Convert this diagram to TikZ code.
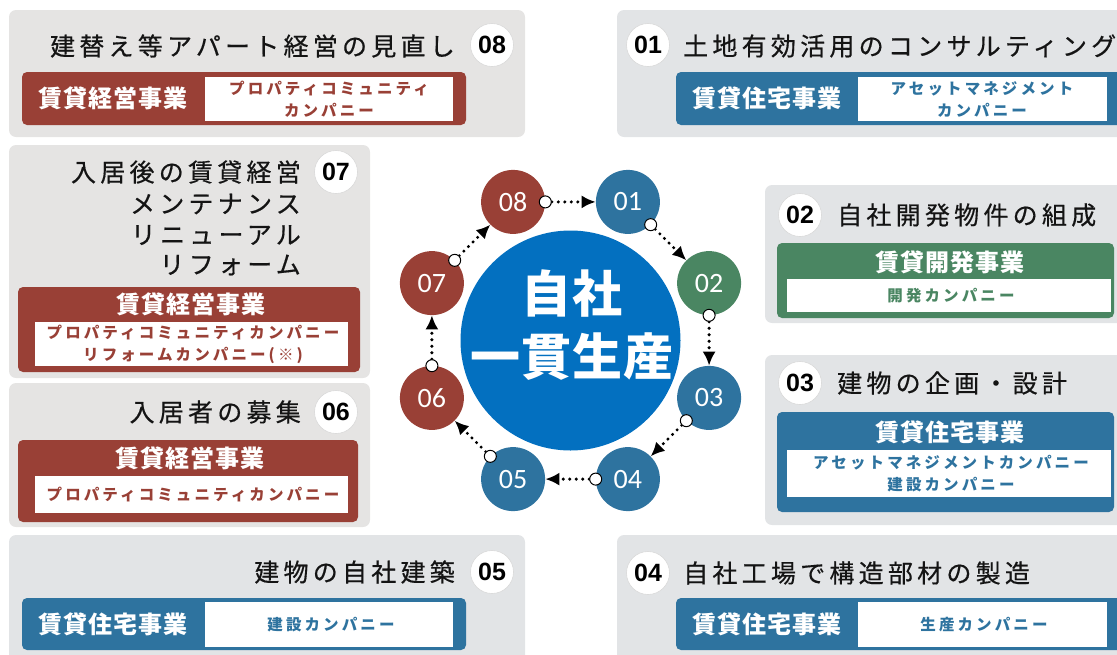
\documentclass[tikz,border=0pt]{standalone}
\usepackage{fontspec}
\usetikzlibrary{arrows.meta}
\newfontfamily\jpT[LetterSpace=17,FakeBold=0.5]{Noto Sans CJK JP}
\newfontfamily\jpL[LetterSpace=5]{Noto Sans CJK JP}
\newfontfamily\jpS[LetterSpace=20]{Noto Sans CJK JP}
\newfontfamily\jpC[LetterSpace=2]{Noto Sans CJK JP}
\newfontfamily\numf{Liberation Sans}
\newfontfamily\ringf{Carlito}
\definecolor{brn}{RGB}{153,64,54}
\definecolor{blu}{RGB}{46,115,159}
\definecolor{grn}{RGB}{74,134,98}
\definecolor{cblu}{RGB}{3,112,192}
\definecolor{gw}{RGB}{229,228,227}
\definecolor{gc}{RGB}{226,228,230}
\definecolor{ink}{RGB}{20,20,20}
\tikzset{
 panelW/.style={fill=gw, rounded corners=7pt},
 panelC/.style={fill=gc, rounded corners=7pt},
 bar/.style={rounded corners=5pt},
 title/.style={inner sep=0pt, text=ink, font=\jpT\fontsize{25}{28}\selectfont},
 badge/.style={circle, fill=white, draw=black!15, line width=0.6pt, minimum size=43pt, inner sep=0pt, font=\numf\bfseries\fontsize{25}{25}\selectfont, text=black},
 blabel/.style={inner sep=0pt, text=white, font=\jpL\bfseries\fontsize{24}{28}\selectfont},
 wtext/.style={inner sep=0pt, align=center, font=\jpS\bfseries\fontsize{15.5}{22}\selectfont},
 ring/.style={circle, minimum size=64pt, inner sep=0pt, text=white, font=\ringf\fontsize{28}{28}\selectfont},
 conn/.style={line width=3.4pt, dash pattern=on 0pt off 6.5pt, line cap=round, -{Latex[length=14pt,width=13pt]}},
 hc/.style={circle, solid, fill=white, draw=black, line width=1pt, minimum size=12pt, inner sep=0pt},
}
\begin{document}
\begin{tikzpicture}[x=1pt,y=-1pt]
\useasboundingbox (0,0) rectangle (1117,654);
\clip (0,0) rectangle (1117,654);
% panels
\fill[panelW] (9,10) rectangle (525,137);
\fill[panelC] (617,10) rectangle (1135,137);
\fill[panelW] (9,145) rectangle (370,378);
\fill[panelW] (9,383) rectangle (370,527);
\fill[panelC] (765,185) rectangle (1135,323);
\fill[panelC] (765,355) rectangle (1135,525);
\fill[panelC] (9,535) rectangle (525,670);
\fill[panelC] (617,535) rectangle (1135,670);
% panel 08
\fill[brn,bar] (22,72) rectangle (466,125);
\fill[white] (205,77) rectangle (453,121);
\node[title,anchor=east] (t08) at (455,46) {建替え等アパート経営の見直し};
\node[badge] (b08) at (492,45) {08};
\node[blabel] (l08) at (113,98) {賃貸経営事業};
\node[wtext,text=brn] (w08) at (329,99) {プロパティコミュニティ\\カンパニー};
% panel 01
\fill[blu,bar] (676,72) rectangle (1130,125);
\fill[white] (858,77) rectangle (1107,121);
\node[title,anchor=west] (t01) at (683,46) {土地有効活用のコンサルティング};
\node[badge] (b01) at (648,45) {01};
\node[blabel] (l01) at (767,98) {賃貸住宅事業};
\node[wtext,text=blu] (w01) at (982,99) {アセットマネジメント\\カンパニー};
% panel 07
\fill[brn,bar] (18,287) rectangle (360,372);
\fill[white] (35,322) rectangle (348,366);
\node[title,anchor=east] (t07a) at (301,172) {入居後の賃貸経営};
\node[title,anchor=east] (t07b) at (301,204) {メンテナンス};
\node[title,anchor=east] (t07c) at (301,235) {リニューアル};
\node[title,anchor=east] (t07d) at (301,265) {リフォーム};
\node[badge] (b07) at (336,172) {07};
\node[blabel] (l07) at (191,304) {賃貸経営事業};
\node[wtext,text=brn] (w07) at (193,344) {プロパティコミュニティカンパニー\\リフォームカンパニー(※)};
% panel 06
\fill[brn,bar] (18,440) rectangle (358,522);
\fill[white] (35,476) rectangle (348,513);
\node[title,anchor=east] (t06) at (301,412) {入居者の募集};
\node[badge] (b06) at (336,412) {06};
\node[blabel] (l06) at (190,458) {賃貸経営事業};
\node[wtext,text=brn] (w06) at (193,494.5) {プロパティコミュニティカンパニー};
% panel 02
\fill[grn,bar] (777,243) rectangle (1114,318);
\fill[white] (787,279) rectangle (1111,312);
\node[title,anchor=west] (t02) at (837,215) {自社開発物件の組成};
\node[badge] (b02) at (800,215) {02};
\node[blabel] (l02) at (950,262) {賃貸開発事業};
\node[wtext,text=grn] (w02) at (951,295.5) {開発カンパニー};
% panel 03
\fill[blu,bar] (777,412) rectangle (1114,512);
\fill[white] (787,450) rectangle (1111,497);
\node[title,anchor=west] (t03) at (837,383) {建物の企画・設計};
\node[badge] (b03) at (800,383) {03};
\node[blabel] (l03) at (950,432) {賃貸住宅事業};
\node[wtext,text=blu] (w03) at (951,473.5) {アセットマネジメントカンパニー\\建設カンパニー};
% panel 05
\fill[blu,bar] (22,598) rectangle (466,650);
\fill[white] (205,602) rectangle (453,647);
\node[title,anchor=east] (t05) at (455,572) {建物の自社建築};
\node[badge] (b05) at (492,572) {05};
\node[blabel] (l05) at (113,624) {賃貸住宅事業};
\node[wtext,text=blu] (w05) at (331,624.5) {建設カンパニー};
% panel 04
\fill[blu,bar] (676,598) rectangle (1130,650);
\fill[white] (858,602) rectangle (1107,647);
\node[title,anchor=west] (t04) at (683,573) {自社工場で構造部材の製造};
\node[badge] (b04) at (648,573) {04};
\node[blabel] (l04) at (767,624) {賃貸住宅事業};
\node[wtext,text=blu] (w04) at (984,624.5) {生産カンパニー};
% centre
\node[circle,fill=cblu,minimum size=220pt,inner sep=0pt] (C) at (570.5,340.5) {};
\node[inner sep=0pt,text=white,font=\jpC\bfseries\fontsize{50}{50}\selectfont] (c1) at (572,293) {自社};
\node[inner sep=0pt,text=white,font=\jpC\bfseries\fontsize{50}{50}\selectfont] (c2) at (572,357) {一貫生産};
% ring
\node[ring,fill=blu] (n01) at (627.9,201.9) {01};
\node[ring,fill=grn] (n02) at (709.1,283.1) {02};
\node[ring,fill=blu] (n03) at (709.1,397.9) {03};
\node[ring,fill=blu] (n04) at (627.9,479.1) {04};
\node[ring,fill=blu] (n05) at (513.1,479.1) {05};
\node[ring,fill=brn] (n06) at (431.9,397.9) {06};
\node[ring,fill=brn] (n07) at (431.9,283.1) {07};
\node[ring,fill=brn] (n08) at (513.1,201.9) {08};
\draw[conn] (n08) -- node[pos=0,hc] (h8) {} (n01);
\draw[conn] (n01) -- node[pos=0,hc] (h1) {} (n02);
\draw[conn] (n02) -- node[pos=0,hc] (h2) {} (n03);
\draw[conn] (n03) -- node[pos=0,hc] (h3) {} (n04);
\draw[conn] (n04) -- node[pos=0,hc] (h4) {} (n05);
\draw[conn] (n05) -- node[pos=0,hc] (h5) {} (n06);
\draw[conn] (n06) -- node[pos=0,hc] (h6) {} (n07);
\draw[conn] (n07) -- node[pos=0,hc] (h7) {} (n08);
\end{tikzpicture}
\end{document}
